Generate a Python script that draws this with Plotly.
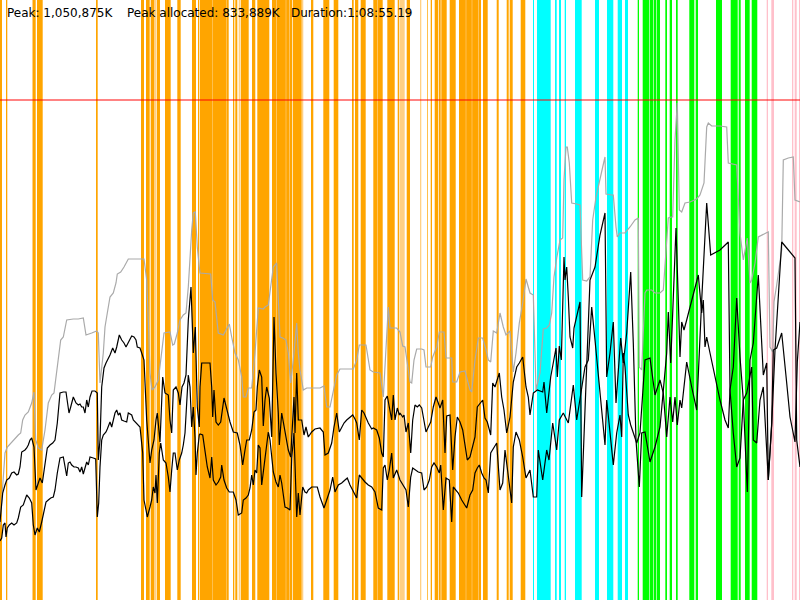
import plotly.graph_objects as go

# GC / memory timeline, x = time slot (0..800), y = heap level (peak = 500)
peak_level = 500

orange_events = [(0, 2), (6, 7.3), (33, 35.7), (37, 42.7), (96, 97.7), (141, 144), (146, 149.7),
                 (150.7, 154), (156.7, 160), (165, 170.7), (177.3, 180.7), (192, 196), (198, 199.3),
                 (200, 212.7), (213, 226.7), (227, 228.7), (233, 234.3), (235.3, 237.3), (240.7, 248.7),
                 (252, 255.3), (257.3, 269.3), (272, 292), (292.7, 301.7), (311, 313.3), (323.3, 329.3),
                 (333.7, 338.3), (352, 353.7), (355, 358.3), (360.7, 365.7), (373.3, 382.7), (387.3, 394.7),
                 (397.7, 399.3), (406.7, 410), (427.3, 428), (430.7, 432), (434.7, 438.3), (439, 440.7),
                 (441.3, 446.7), (449.7, 455.7), (459, 481), (483, 487.7), (496.7, 498.7), (506.7, 508.7),
                 (509.7, 512.7), (520.7, 525.3)]
light_events = [(32, 33), (154, 156), (238.7, 240), (302, 303.3), (400, 404.7), (420, 421.3),
                (276.3, 277), (285.7, 286.3), (289, 289.7), (377, 377.7), (465.7, 466.3),
                (471.7, 472.3), (478.3, 479)]
cyan_events = [(533, 534), (537, 550.7), (555, 556.7), (559, 561), (564.7, 566), (575, 581.7),
               (595, 599), (607, 613.3), (617.7, 622), (625, 628)]
green_events = [(637.7, 639), (642.7, 649), (649.6, 653), (653.6, 656.4), (657, 660), (665.3, 667),
                (669.7, 672), (676, 677.7), (689.3, 694.3), (695.7, 698), (716, 722), (730.7, 737.7),
                (738.7, 740.7), (745, 749.7), (751.7, 757.3)]
pink_events = [(766.7, 768), (771.3, 774), (792, 793.3), (794.7, 796.7), (799, 800)]

heap_pts = [
    (0, 75), (1.7, 100), (5, 147), (7.3, 153), (13.3, 160), (18.3, 165), (20.7, 167), (22.7, 180), (25, 185),
    (28.3, 188), (31.7, 197), (34, 208), (35.7, 160), (38.3, 152), (41.7, 150), (45, 170), (48.3, 197),
    (51.7, 205), (54, 207), (57.3, 233), (60.7, 260), (63.3, 263), (66.7, 280), (73.3, 281), (78.3, 281),
    (83.3, 282), (86, 265), (91.7, 267), (96.7, 269), (98.3, 267), (100, 217), (103.3, 247), (105, 273),
    (107.3, 287), (110, 303), (113.3, 307), (116, 317), (117.3, 326), (120.7, 328), (124, 333), (128.3, 341),
    (144, 341), (146.7, 320), (148.3, 280), (150, 227), (152, 210), (155, 213), (158.3, 220), (161.7, 247),
    (164, 267), (170, 268), (172.7, 255), (174.3, 256), (177.3, 267), (180, 280), (183.3, 285), (186, 287),
    (188.3, 313), (191.7, 370), (193.3, 387), (195.3, 388), (197.3, 353), (199.3, 333),
    (200, 327), (210.7, 326), (212.7, 300), (215, 298), (218.3, 267), (223.3, 265), (226.7, 271), (229.3, 276),
    (231.7, 263), (235, 247), (238.3, 240), (241.7, 223), (243.3, 203), (246, 203), (248.3, 212), (251.7, 212),
    (255, 247), (258.3, 292), (263.3, 291), (265, 293), (268.3, 295), (270, 310), (273.3, 333), (276.7, 337),
    (278.3, 300), (280, 263), (282.7, 262), (286, 260), (288.3, 247), (290.7, 217), (293.3, 240), (296.7, 277),
    (298.3, 247), (300, 230), (303.3, 210), (306.7, 212), (313.3, 212), (320, 212), (324, 214), (326.7, 193),
    (330, 193), (333.3, 210), (336.7, 225), (340, 231), (346.7, 231), (353.3, 231), (356.7, 240), (359.3, 255),
    (366, 255), (370, 230), (373.3, 228), (380, 227), (383.3, 203), (386, 247), (388.3, 293), (390, 272),
    (396.7, 272), (400, 268),
    (402.7, 254), (405, 253), (408.3, 230), (410, 218), (411.7, 217), (414, 240), (416.7, 251), (421.7, 251),
    (424, 250), (426, 233), (430.7, 233), (432.7, 243), (436.7, 253), (439.3, 268), (444, 268), (446, 242),
    (451.7, 242), (452.7, 218), (456.7, 218), (460, 228), (465, 229), (470, 210), (471.7, 208), (475, 240),
    (478.3, 262), (482.7, 262), (486, 250), (488.3, 240), (490.7, 238), (493.3, 269), (496.7, 267), (500, 287),
    (503.3, 273), (506, 265), (510, 269), (513.3, 228), (516, 247), (519.3, 277), (522.7, 297), (526, 321),
    (530, 307), (533.3, 305), (535, 247), (536, 210), (540, 227), (543.3, 271), (546.7, 272), (549.3, 275),
    (551.7, 287), (554, 323), (556.7, 342), (560, 360), (562.7, 362), (564, 420), (566, 453), (567.3, 453),
    (569.3, 437), (571.7, 397), (576.7, 396), (580, 395), (582.7, 320), (586.7, 319), (590, 323), (592.7, 380),
    (596, 403), (600, 423),
    (602.7, 433), (605, 443), (606, 406), (611.7, 405), (613.3, 405), (616, 373), (617.3, 363), (620, 367),
    (625, 367), (630, 373), (635, 380), (638.3, 382), (639.3, 233), (641.7, 230), (645, 307), (646.7, 310),
    (651.7, 310), (655, 307), (660, 307), (663.3, 310), (666, 350), (668.3, 382), (671, 383), (672.7, 383),
    (675, 460), (677.3, 497), (679.3, 390), (681.7, 388), (685, 397), (690, 398), (696.7, 401), (700, 405),
    (704, 417), (706.7, 473), (708.3, 477), (711.7, 474), (720, 474), (726.7, 473), (728.3, 437), (731.7, 436),
    (736.7, 435), (740, 367), (743.3, 340), (747.3, 362), (750, 317), (751.7, 320), (755, 337), (758.3, 363),
    (761.7, 365), (766, 367), (768.3, 368), (770, 253), (772.7, 248), (774, 298), (776.7, 315), (781.7, 350),
    (783.3, 440), (788.3, 442), (793.3, 443), (795, 400), (800, 398)]

used_pts = [
    (0, 78), (2.7, 107), (5, 115), (6.7, 120), (9.3, 122), (11.7, 127), (14, 128), (16.7, 125), (18.3, 126),
    (20, 133), (21.7, 148), (25, 150), (26.7, 152), (28.3, 155), (30, 160), (31.7, 162), (34, 153), (35, 130),
    (36, 110), (38.3, 117), (40, 122), (42.3, 117), (45, 137), (47.3, 152), (50, 155), (52.7, 157), (55, 160),
    (57.3, 177), (60, 207), (63.3, 208), (66, 208), (69, 187), (70.7, 193), (73.3, 203), (76, 197), (78.3, 195),
    (80, 196), (81.7, 193), (83.3, 193), (85, 187), (86.7, 200), (88.3, 193), (90, 203), (92, 209), (95, 209),
    (97.3, 207), (98.3, 140), (100, 160), (101.7, 213), (104, 232), (106, 237), (108.3, 241), (110, 245),
    (112.7, 252), (115, 247), (116.7, 253), (119.3, 265), (121.7, 260), (124, 257), (126, 253), (128.3, 257),
    (130, 260), (131.7, 264), (134, 263), (136, 260), (137.3, 253), (140, 252), (141.7, 247), (144, 240),
    (146.7, 180), (148.3, 160), (150, 137), (151.7, 150), (154, 160), (156, 180), (157.3, 187), (160, 158),
    (162.7, 223), (165, 207), (168.3, 205), (170, 180), (171.7, 167), (173.3, 210), (176, 213), (178.3, 207),
    (180, 195), (182, 213), (184, 217), (186, 225), (188.3, 280), (191, 313), (193.3, 247), (195.3, 273),
    (197.3, 193), (199.3, 173),
    (200, 213), (201.7, 237), (210, 237), (211.7, 213), (212.7, 183), (214, 210), (216, 178), (218.3, 175),
    (220.7, 178), (224, 202), (226.7, 190), (230, 178), (233.3, 168), (236, 167), (237.3, 167), (240, 155),
    (242.7, 135), (245, 150), (246.7, 160), (249.3, 160), (251.7, 170), (254, 188), (256, 190), (257.3, 213),
    (259.3, 230), (261.7, 223), (263.3, 174), (265, 200), (266.7, 213), (269.3, 202), (271.7, 163), (274, 283),
    (276, 227), (278.3, 187), (279.3, 155), (281.7, 187), (283.3, 177), (286, 163), (288.3, 150), (290.7, 143),
    (292.7, 180), (294, 203), (295, 167), (296.7, 227), (298.3, 180), (301.7, 180), (304, 165), (306, 173),
    (308.3, 163), (311.7, 168), (315, 171), (320, 172), (323.3, 168), (325, 145), (328.3, 147), (331.7, 157),
    (334, 173), (336.7, 187), (339.3, 168), (341.7, 173), (344, 177), (346.7, 180), (349.3, 182), (352.7, 185),
    (355, 181), (356.7, 177), (359.3, 160), (361.7, 190), (364, 187), (366, 182), (368.3, 177), (371.7, 171),
    (373.3, 172), (376.7, 170), (379.3, 162), (381.7, 147), (383.3, 143), (385, 200), (387.3, 204), (389.3, 193),
    (391.7, 180), (393.3, 205), (395, 180), (397.3, 192), (399.3, 185),
    (400, 187), (402.7, 183), (404, 185), (406, 168), (408.3, 177), (410.7, 147), (412.7, 180), (415, 195),
    (417.3, 193), (419.3, 195), (421.7, 192), (424, 180), (426, 168), (428.3, 173), (430.7, 178), (433.3, 193),
    (436, 203), (438.3, 197), (440, 192), (442.7, 200), (445, 147), (446.7, 184), (450, 185), (452.7, 130),
    (455, 163), (457.3, 183), (460, 178), (462.7, 170), (465, 155), (467.3, 140), (470, 143), (472.7, 153),
    (475, 163), (477.3, 193), (480, 197), (482.7, 200), (485, 182), (487.3, 178), (490.7, 165), (492.7, 217),
    (495, 213), (497.3, 222), (499.3, 227), (501.7, 203), (504, 190), (506.7, 167), (510, 183), (513.3, 218),
    (516.7, 233), (519.3, 237), (522.7, 243), (526, 213), (528.3, 203), (530, 185),
    (533.3, 207), (537.3, 210), (542.7, 208), (544, 218), (546.7, 187), (550.7, 223), (553.3, 237), (556, 252),
    (557.3, 223), (559.3, 254), (561.3, 240), (564, 343), (565, 320), (566.7, 333), (568.3, 303), (570, 263),
    (572.7, 252), (574, 272), (580, 298), (581.7, 103), (585, 190), (590, 320), (595, 333), (600, 365),
    (605, 387), (606.7, 223), (610, 247), (613.3, 278), (616, 197), (618.3, 230), (620.7, 262), (623.3, 237),
    (626.7, 267), (630.7, 328), (633.3, 257), (636, 160), (639.3, 113), (641.7, 167), (645, 168), (650, 138),
    (655, 153), (660, 173), (663.3, 207), (666.7, 247), (668.3, 288), (670.7, 237), (672.7, 287), (676, 372),
    (678.3, 300), (680, 243), (681.7, 278), (684, 270), (686.7, 280), (691.7, 300), (698.3, 325), (701.7, 287),
    (703.3, 300), (705, 253), (706.7, 263), (710, 247), (715, 223), (720, 200), (725, 180), (728.3, 172),
    (730, 210), (733.3, 233), (736.7, 302), (740, 243), (743.3, 200), (747.3, 108), (750, 240), (753.3, 257),
    (758.3, 325), (761.7, 253), (763.3, 225), (766.7, 237), (768.3, 120), (771.7, 177), (773.3, 250),
    (776.7, 252), (781.7, 267), (786.7, 217), (790, 183), (795, 158), (797.3, 238), (800, 278)]

live_pts = [
    (0, 59), (1.7, 62), (3.3, 75), (5, 77), (6, 63), (7.3, 72), (9.3, 75), (11.7, 77), (14, 75), (16.7, 77),
    (18.3, 82), (20.7, 93), (23.3, 95), (25, 100), (26.7, 105), (29.3, 102), (31.7, 97), (33.3, 75), (35, 65),
    (37.3, 72), (39.3, 68), (41.7, 78), (44, 90), (46, 98), (48.3, 100), (50.7, 102), (53.3, 103), (55, 110),
    (57.3, 127), (60, 142), (63.3, 143), (65, 132), (66.7, 124), (68.3, 137), (70, 138), (71.7, 135), (74, 133),
    (76, 133), (78.3, 132), (80, 128), (81.7, 133), (83.3, 126), (85, 132), (86.7, 138), (88.3, 135), (90, 143),
    (93.3, 142), (95.7, 141), (97.3, 83), (98.7, 97), (100, 133), (101.7, 160), (103.3, 165), (106, 168),
    (107.3, 171), (110, 178), (111.7, 173), (113.3, 180), (115, 187), (116.7, 190), (118.3, 185), (120, 187),
    (121.7, 180), (124, 179), (126.7, 178), (128.3, 187), (131.7, 185), (133.3, 180), (135, 178), (136.7, 177),
    (140, 173), (142.7, 147), (144, 100), (146, 90), (147.3, 83), (150, 93), (151.7, 100), (153.3, 113),
    (155, 107), (156, 125), (157.3, 97), (159.3, 147), (160.7, 157), (163.3, 140), (166, 137), (168.3, 123),
    (170, 108), (171.7, 130), (173.3, 147), (175, 147), (177.3, 130), (179.3, 140), (181.7, 147), (183.3, 155),
    (185, 167), (186.7, 197), (188.3, 225), (190, 213), (191.7, 173), (193.3, 193), (195, 163), (196, 125),
    (197.3, 147), (199.3, 165),
    (200, 166), (202.7, 165), (205, 148), (207.3, 133), (210, 122), (211.7, 143), (213.3, 120), (216, 115),
    (218.3, 118), (220.7, 123), (221.7, 135), (224, 120), (226.7, 112), (229.3, 108), (233.3, 108), (236, 100),
    (238.3, 85), (241.7, 87), (243.3, 100), (246, 102), (248.3, 105), (250, 112), (251.7, 125), (253.3, 115),
    (255, 130), (256.7, 127), (258.3, 155), (260, 152), (261.7, 115), (264, 133), (266, 147), (268.3, 168),
    (270, 160), (271.7, 140), (273.3, 128), (276, 118), (278.3, 113), (280, 125), (281.7, 117), (285, 93),
    (287.3, 92), (290, 90), (291.7, 142), (294, 167), (296.7, 83), (298.3, 107), (300, 85), (302.7, 113),
    (305, 108), (306.7, 107), (308.3, 110), (311.7, 113), (315, 113), (317.3, 113), (320, 103), (324, 92),
    (326.7, 100), (330, 110), (332.7, 123), (335, 108), (338.3, 115), (341.7, 117), (345, 120), (347.3, 122),
    (350, 115), (353.3, 108), (356.7, 102), (359.3, 125), (361.7, 122), (365, 118), (368.3, 115), (371.7, 113),
    (375, 108), (378.3, 92), (381.7, 90), (383.3, 132), (385, 135), (387.3, 120), (389.3, 130), (391.7, 147),
    (393.3, 122), (396.7, 130), (400, 120),
    (404, 113), (406, 110), (408.3, 93), (410.7, 123), (412.7, 132), (415, 130), (418.3, 128), (421.7, 127),
    (424, 110), (426.7, 113), (429.3, 120), (431.7, 133), (434, 137), (436.7, 133), (439.3, 127), (440.7, 135),
    (443.3, 90), (446, 122), (449.3, 120), (451.7, 78), (453.3, 113), (458.3, 107), (461.7, 100), (466.7, 92),
    (470, 105), (472.7, 110), (475, 127), (477.3, 132), (479.3, 135), (481.7, 127), (484, 122), (486, 120),
    (488.3, 107), (490.7, 147), (493.3, 152), (496.7, 157), (500, 110), (502.7, 117), (505, 150), (507.3, 133),
    (511.7, 97), (513.3, 153), (516, 168), (519.3, 160), (522.7, 143), (526, 122), (530, 130), (533.3, 103),
    (536.7, 103), (538.3, 150), (542.7, 120), (546.7, 150), (549, 140), (552.7, 177), (555, 160), (556.7, 150),
    (559.3, 180), (563.3, 187), (568.3, 177), (573.3, 215), (576.7, 180), (580, 200), (585, 233), (588.3, 240),
    (591.7, 293), (595, 260), (600, 210),
    (605, 155), (606.7, 200), (610, 167), (613.3, 135), (616.7, 167), (620, 185), (621.7, 163), (623.3, 247),
    (625, 233), (628.3, 185), (630.7, 175), (633.3, 167), (636.7, 157), (640, 167), (645, 240), (650, 242),
    (655, 205), (660, 220), (663.3, 207), (666.7, 163), (670, 203), (672.7, 178), (675, 203), (677.3, 175),
    (680, 200), (681.7, 192), (686.7, 238), (691.7, 213), (696.7, 190), (701.7, 300), (706.7, 397),
    (710.7, 345), (720, 350), (728.3, 358), (730, 210), (733.3, 167), (736.7, 133), (740, 142), (743.3, 200),
    (746.7, 207), (751.7, 233), (753.3, 160), (756.7, 157), (760, 200), (763.3, 213), (768.3, 120),
    (771.7, 175), (775, 250), (781.7, 358), (786.7, 352), (795, 342), (796.7, 160), (800, 133)]

stats = ["Peak: 1,050,875K", "Peak allocated: 833,889K", "Duration:1:08:55.19"]
stats_pos = [5, 125, 289]

fig = go.Figure()

event_groups = [(orange_events, "#ffa500"), (light_events, "#ffd084"), (cyan_events, "#00ffff"),
                (green_events, "#00ff00"), (pink_events, "#ffc0cb")]
for events, col in event_groups:
    for x0, x1 in events:
        fig.add_vrect(x0=x0, x1=x1, fillcolor=col, opacity=1, line_width=0, layer="below")

for pts, col in [(heap_pts, "#aaaaaa"), (used_pts, "black"), (live_pts, "black")]:
    fig.add_trace(go.Scatter(
        x=[p[0] for p in pts],
        y=[p[1] for p in pts],
        mode="lines",
        line=dict(color=col, width=1.2),
        hoverinfo="skip",
        showlegend=False,
    ))

fig.add_hline(y=peak_level, line=dict(color="rgba(255,0,0,0.65)", width=1.5))

for txt, xp in zip(stats, stats_pos):
    fig.add_annotation(text=txt, x=xp / 800, y=1 - 12.5 / 600, xref="paper", yref="paper",
                       xanchor="left", yanchor="middle", showarrow=False,
                       font=dict(family="DejaVu Sans", size=12, color="black"))

fig.update_layout(
    width=800, height=600,
    margin=dict(l=0, r=0, t=0, b=0),
    plot_bgcolor="white", paper_bgcolor="white",
    xaxis=dict(range=[0, 800], visible=False),
    yaxis=dict(range=[0, 600], visible=False),
)

# page body has a default 8px margin, drop it so the figure fills the window
fig.write_html("out.html", config={"displayModeBar": False},
               post_script="document.body.style.margin='0px';")
